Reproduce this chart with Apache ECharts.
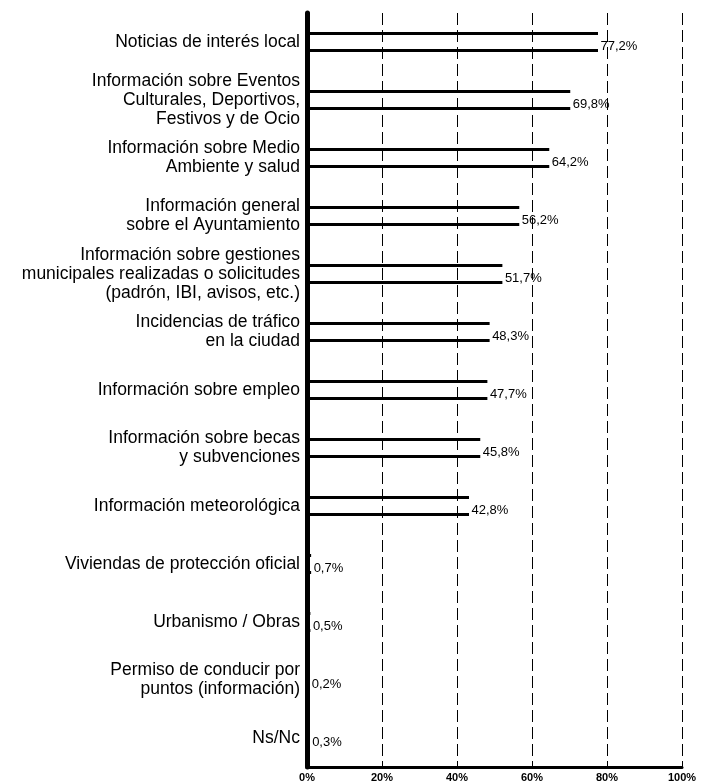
<!DOCTYPE html>
<html>
<head>
<meta charset="utf-8">
<script src="https://cdn.jsdelivr.net/npm/echarts@6/dist/echarts.min.js"></script>
<style>
html,body{margin:0;padding:0;background:#fff;}
#chart{width:702px;height:784px;}
</style>
</head>
<body>
<div id="chart"></div>
<script>
var categories = [
  "Noticias de interés local",
  "Información sobre Eventos\nCulturales, Deportivos,\nFestivos y de Ocio",
  "Información sobre Medio\nAmbiente y salud",
  "Información general\nsobre el Ayuntamiento",
  "Información sobre gestiones\nmunicipales realizadas o solicitudes\n(padrón, IBI, avisos, etc.)",
  "Incidencias de tráfico\nen la ciudad",
  "Información sobre empleo",
  "Información sobre becas\ny subvenciones",
  "Información meteorológica",
  "Viviendas de protección oficial",
  "Urbanismo / Obras",
  "Permiso de conducir por\npuntos (información)",
  "Ns/Nc"
];
var values = [77.2, 69.8, 64.2, 56.2, 51.7, 48.3, 47.7, 45.8, 42.8, 0.7, 0.5, 0.2, 0.3];
var xTicks = [0, 20, 40, 60, 80, 100];

function fmt(v) { return v.toFixed(1).replace('.', ',') + '%'; }

var chart = echarts.init(document.getElementById('chart'));
chart.setOption({
  animation: false,
  backgroundColor: '#fff',
  textStyle: { fontFamily: 'Liberation Sans, Arial, sans-serif' },
  grid: { left: 307, right: 20, top: 13, bottom: 17, containLabel: false },
  xAxis: {
    type: 'value',
    min: xTicks[0],
    max: xTicks[xTicks.length - 1],
    interval: 20,
    axisLine: { show: true, lineStyle: { color: '#000', width: 3 } },
    axisTick: { show: false },
    axisLabel: {
      color: '#000', fontSize: 11, fontWeight: 'bold', margin: 5,
      formatter: function (v) { return v + '%'; }
    },
    splitLine: { show: true, lineStyle: { color: '#000', type: [12, 5], width: 1 } }
  },
  yAxis: {
    type: 'category',
    inverse: true,
    data: categories,
    axisLine: { show: true, lineStyle: { color: '#000', width: 5 } },
    axisTick: { show: false },
    axisLabel: {
      color: '#000', fontSize: 17.5, lineHeight: 19, margin: 7, align: 'right'
    }
  },
  series: [{
    type: 'custom',
    data: values.map(function (v, i) { return [v, i]; }),
    encode: { x: 0, y: 1 },
    renderItem: function (params, api) {
      var v = api.value(0);
      var start = api.coord([0, api.value(1)]);
      var end = api.coord([v, api.value(1)]);
      var half = 8.5;
      var ls = { stroke: '#000', lineWidth: 3, lineCap: 'square' };
      return {
        type: 'group',
        children: [
          { type: 'line', shape: { x1: start[0], y1: start[1] - half, x2: end[0], y2: end[1] - half }, style: ls },
          { type: 'line', shape: { x1: start[0], y1: start[1] + half, x2: end[0], y2: end[1] + half }, style: ls },
          { type: 'text', x: end[0] + 4, y: end[1] + 4,
            style: { text: fmt(v), fill: '#000', font: '13px "Liberation Sans", Arial, sans-serif',
                     textAlign: 'left', textVerticalAlign: 'middle' } }
        ]
      };
    }
  }]
});
</script>
</body>
</html>
